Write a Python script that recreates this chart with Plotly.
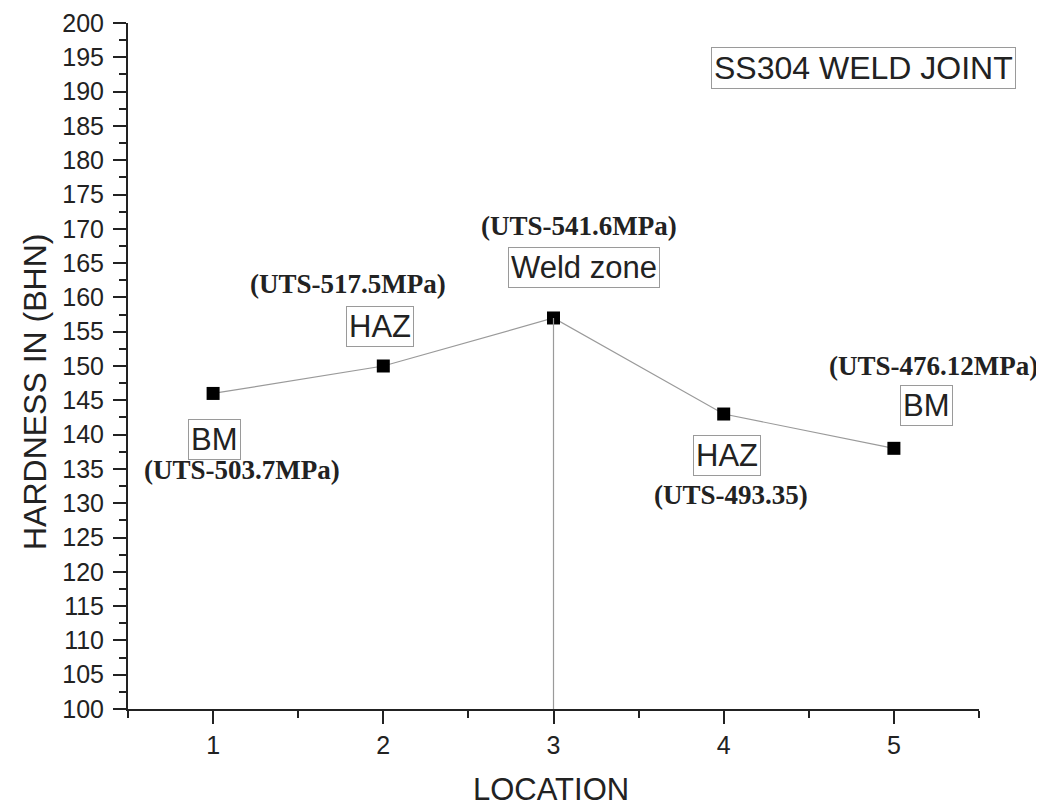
import plotly.graph_objects as go

location = [1, 2, 3, 4, 5]
hardness = [146, 150, 157, 143, 138]

zone_labels = ["BM", "HAZ", "Weld zone", "HAZ", "BM"]
zone_x = [1.01, 1.98, 3.18, 4.02, 5.19]
zone_y = [139.3, 155.8, 164.3, 137.0, 144.3]

uts_labels = ["(UTS-503.7MPa)", "(UTS-517.5MPa)", "(UTS-541.6MPa)", "(UTS-493.35)", "(UTS-476.12MPa)"]
uts_x = [1.17, 1.79, 3.15, 4.04, 5.23]
uts_y = [134.8, 162.0, 170.4, 131.2, 150.0]

title_text = "SS304 WELD JOINT"

# page body adds an 8px offset; figure is sized so plot area lands on the reference
OFF = 8
W, H = 1044 - OFF, 808 - OFF
L, T = 128 - OFF, 23 - OFF
R = W - (979 - OFF)
B = H - (709 - OFF)
pw, ph = W - L - R, H - T - B


def px_x(sx):
    return (sx - OFF - L) / pw


def px_y(sy):
    return (H - B - (sy - OFF)) / ph


fig = go.Figure()
fig.add_trace(go.Scatter(
    x=location, y=hardness, mode="lines+markers",
    line=dict(color="#9a9a9a", width=1.2),
    marker=dict(symbol="square", size=13, color="black"),
    showlegend=False, hoverinfo="skip"))

# vertical drop line at weld centre
fig.add_trace(go.Scatter(
    x=[location[2], location[2]], y=[100, hardness[2]], mode="lines",
    line=dict(color="#9a9a9a", width=1.2), showlegend=False, hoverinfo="skip"))

for t, x, y in zip(zone_labels, zone_x, zone_y):
    fig.add_annotation(x=x, y=y, text=t, showarrow=False,
                       font=dict(family="Liberation Sans, Arial", size=31, color="#222"),
                       bordercolor="#9a9a9a", borderwidth=1, borderpad=2, bgcolor="white")

for t, x, y in zip(uts_labels, uts_x, uts_y):
    fig.add_annotation(x=x, y=y, text="<b>" + t + "</b>", showarrow=False,
                       font=dict(family="Liberation Serif, Times New Roman", size=27, color="#222"))

fig.add_annotation(x=4.82, y=193.4, text=title_text, showarrow=False,
                   font=dict(family="Liberation Sans, Arial", size=32, color="#222"),
                   bordercolor="#9a9a9a", borderwidth=1, borderpad=2, bgcolor="white")

fig.add_annotation(xref="paper", yref="paper", x=px_x(35), y=px_y(392),
                   xanchor="center", yanchor="middle",
                   text="HARDNESS IN (BHN)", textangle=-90, showarrow=False,
                   font=dict(family="Liberation Sans, Arial", size=32, color="#222"))

fig.add_annotation(xref="paper", yref="paper", x=px_x(551), y=px_y(789),
                   xanchor="center", yanchor="middle",
                   text="LOCATION", showarrow=False,
                   font=dict(family="Liberation Sans, Arial", size=31, color="#222"))

fig.update_layout(
    width=W, height=H,
    margin=dict(l=L, r=R, t=T, b=B, autoexpand=False),
    paper_bgcolor="white", plot_bgcolor="white",
    font=dict(family="Liberation Sans, Arial", color="#222"),
    xaxis=dict(range=[0.5, 5.5], tickvals=location, ticktext=[str(v) for v in location],
               showgrid=False, zeroline=False, showline=True, linecolor="#222", linewidth=2,
               ticks="outside", ticklen=13, tickwidth=2, tickcolor="#222",
               tickfont=dict(size=25),
               minor=dict(dtick=0.5, tick0=0.5, ticks="outside", ticklen=7, tickwidth=2, tickcolor="#222")),
    yaxis=dict(range=[100, 200], dtick=5, tick0=100,
               showgrid=False, zeroline=False, showline=True, linecolor="#222", linewidth=2,
               ticks="outside", ticklen=13, tickwidth=2, tickcolor="#222",
               tickfont=dict(size=25), ticklabelstandoff=4,
               minor=dict(dtick=2.5, tick0=100, ticks="outside", ticklen=7, tickwidth=2, tickcolor="#222")),
)

fig.write_html("out.html")
